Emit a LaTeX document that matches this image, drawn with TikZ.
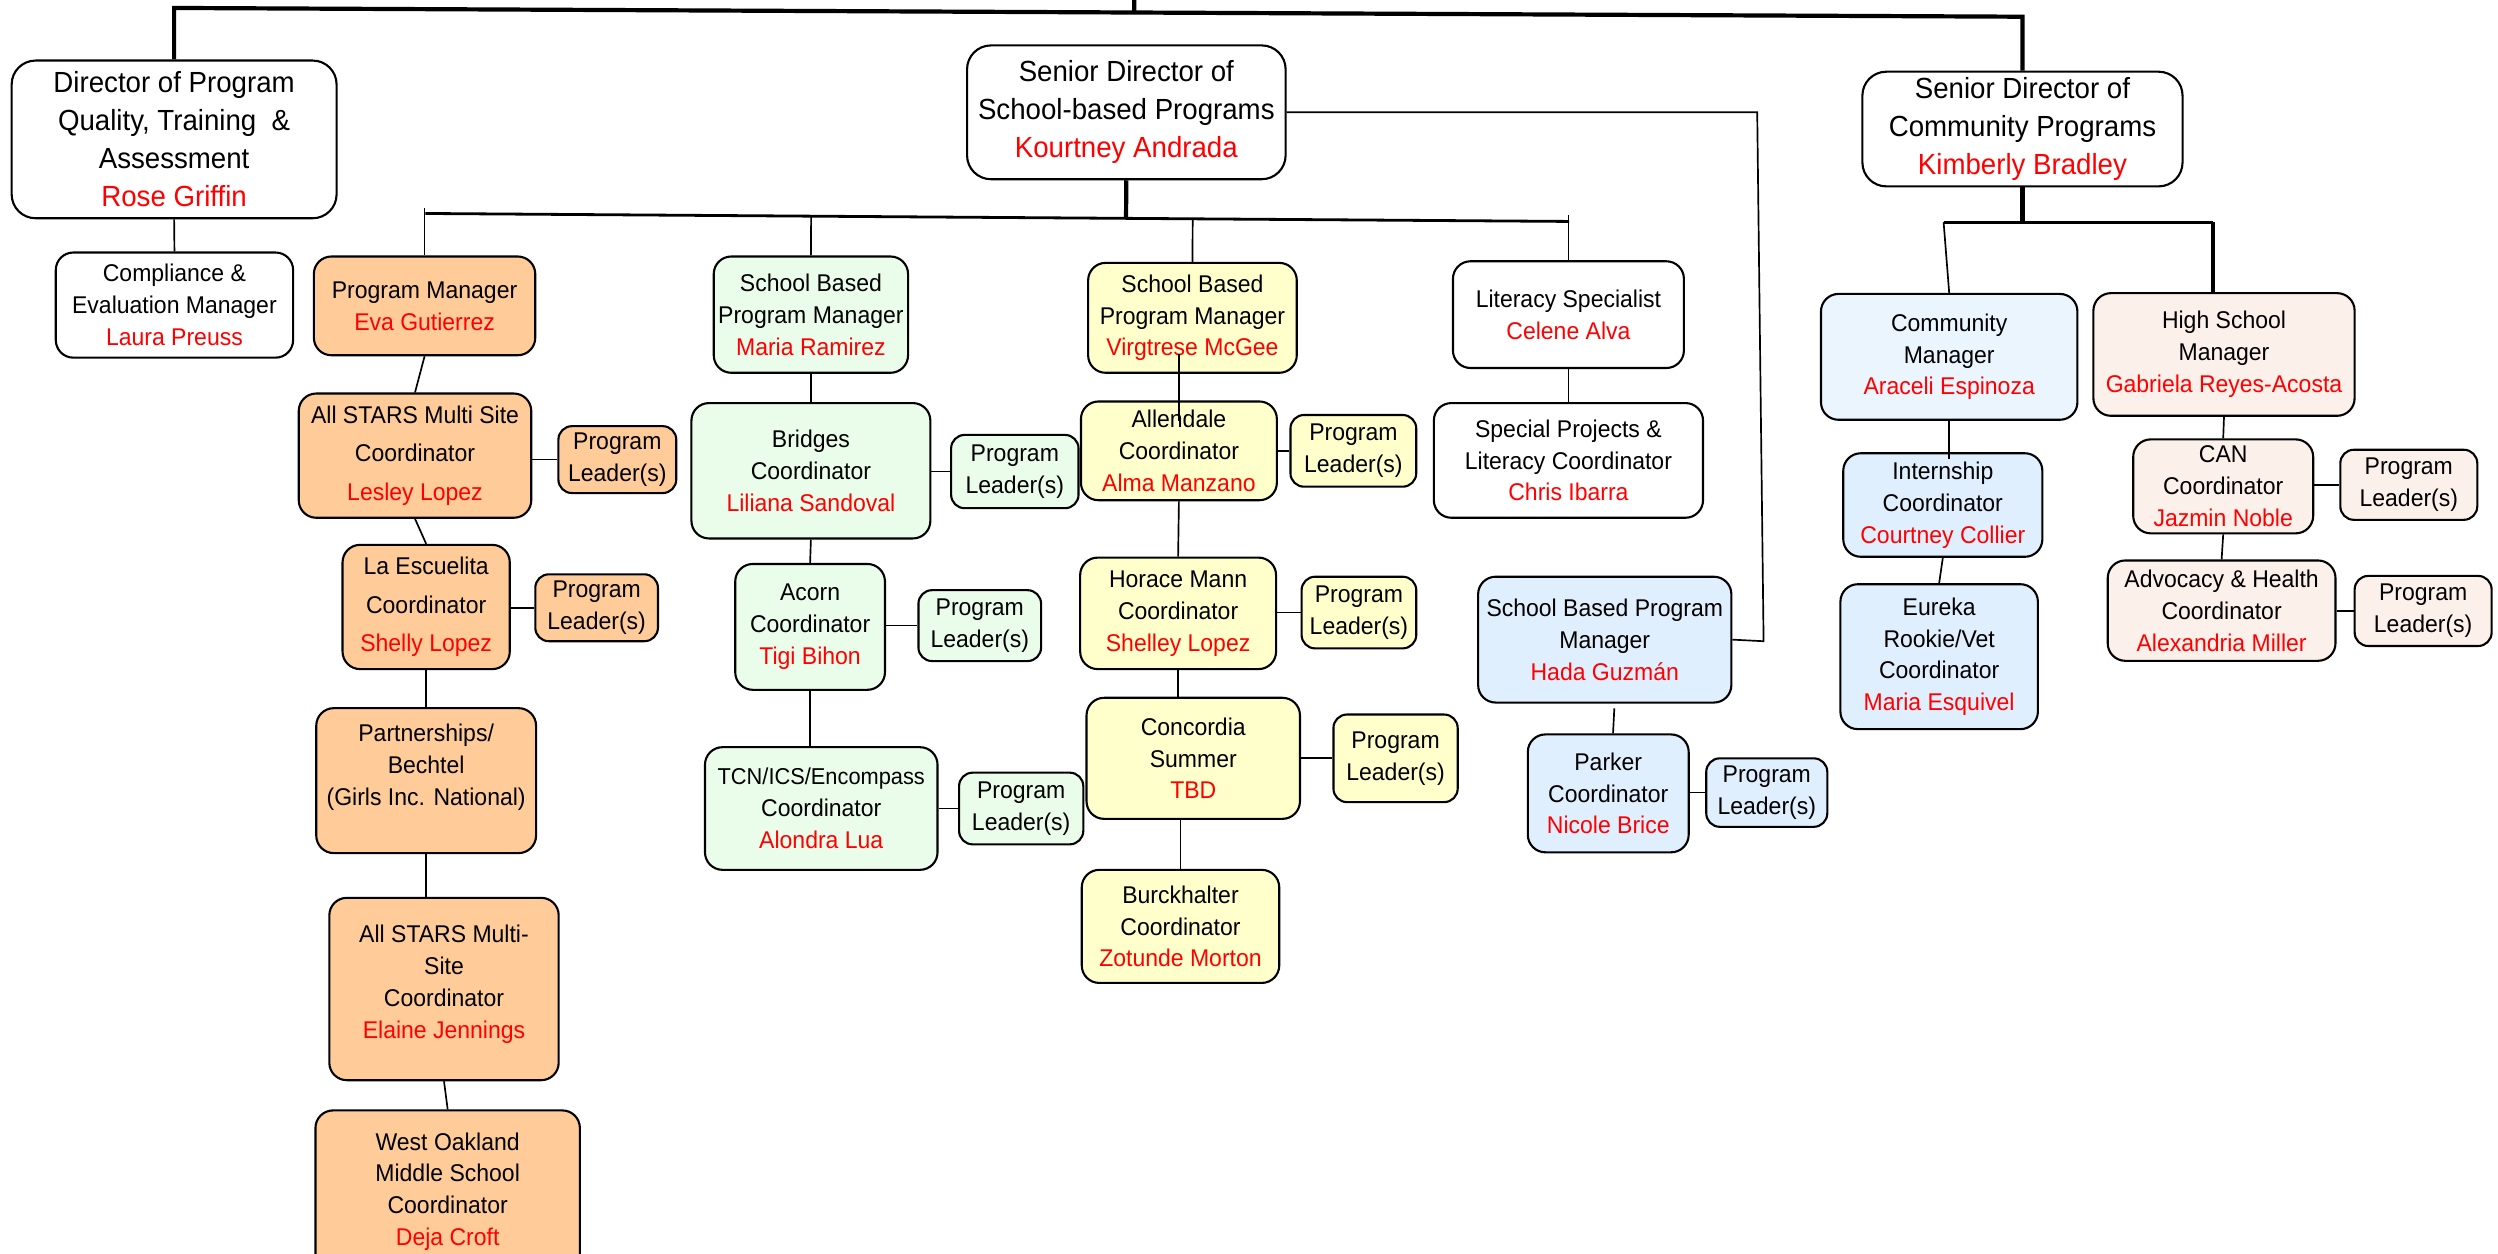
\documentclass[tikz,border=0pt]{standalone}
\usepackage{fontspec}
\setmainfont[FakeStretch=0.95]{Liberation Sans}
\usetikzlibrary{calc}
\definecolor{cOr}{HTML}{FFCC99}
\definecolor{cGr}{HTML}{EAFDEA}
\definecolor{cYe}{HTML}{FFFFCC}
\definecolor{cBl}{HTML}{E0EFFD}
\definecolor{cBlb}{HTML}{EAF5FE}
\definecolor{cPk}{HTML}{FCF0EA}
\definecolor{cRed}{HTML}{FF0000}
\newcommand{\bigf}{\fontsize{10.4}{13.6}\selectfont}
\newcommand{\smf}{\fontsize{8.65}{11.38}\selectfont}
\newcommand{\smfw}{\fontsize{8.65}{13.8}\selectfont}
\newcommand{\nm}[1]{\textcolor{cRed}{#1}}
\begin{document}
\begin{tikzpicture}[x=0.02cm, y=-0.02cm,
  bx/.style={draw, line width=0.75pt, rounded corners=0.22cm, inner sep=0pt, align=center, font=\smf, text=black, fill=white},
  bigbx/.style={bx, rounded corners=0.3cm, font=\bigf},
  plbx/.style={bx, rounded corners=0.17cm},
  widef/.style={font=\smfw},
  fOr/.style={fill=cOr}, fGr/.style={fill=cGr}, fYe/.style={fill=cYe},
  fBl/.style={fill=cBl}, fBlb/.style={fill=cBlb}, fPk/.style={fill=cPk},
  thkc/.style={line width=1.5pt},
  medc/.style={line width=1pt},
  thnc/.style={line width=0.6pt}]
\useasboundingbox (0,0) rectangle (1568,787);
\clip (0,0) rectangle (1568,787);

% ---- top level
\node[bigbx, minimum width=4.08cm, minimum height=1.98cm] (dir) at (109.3,87.5) {Director of Program\\Quality, Training\ \ \&\\Assessment\\\nm{Rose Griffin}};
\node[bigbx, minimum width=4.00cm, minimum height=1.68cm] (sds) at (707,70.5) {Senior Director of\\School-based Programs\\\nm{Kourtney Andrada}};
\node[bigbx, minimum width=4.02cm, minimum height=1.44cm] (sdc) at (1269.5,81) {Senior Director of\\Community Programs\\\nm{Kimberly Bradley}};

% ---- quality column
\node[bx, minimum width=2.98cm, minimum height=1.32cm] (comp) at (109.5,191.5) {Compliance \&\\Evaluation Manager\\\nm{Laura Preuss}};

% ---- orange column
\node[bx, fOr, minimum width=2.78cm, minimum height=1.24cm] (pm1) at (266.5,192) {Program Manager\\\nm{Eva Gutierrez}};
\node[bx, fOr, widef, minimum width=2.92cm, minimum height=1.56cm] (as1) at (260.5,286) {All STARS Multi Site\\Coordinator\\\nm{Lesley Lopez}};
\node[plbx, fOr, minimum width=1.48cm, minimum height=0.84cm] (pl1) at (387.5,288.5) {Program\\Leader(s)};
\node[bx, fOr, widef, minimum width=2.10cm, minimum height=1.56cm] (le) at (267.5,381) {La Escuelita\\Coordinator\\\nm{Shelly Lopez}};
\node[plbx, fOr, minimum width=1.54cm, minimum height=0.84cm] (pl2) at (374.5,381.5) {Program\\Leader(s)};
\node[bx, fOr, minimum width=2.76cm, minimum height=1.82cm] (part) at (267.5,490) {Partnerships/\\Bechtel\\(Girls Inc. National)\\\mbox{}};
\node[bx, fOr, minimum width=2.88cm, minimum height=2.29cm] (ej) at (278.7,620.8) {All STARS Multi-\\Site\\Coordinator\\\nm{Elaine Jennings}\\[-6pt]\mbox{}};
\node[bx, fOr, minimum width=3.32cm, minimum height=2.04cm] (wo) at (281,748) {West Oakland\\Middle School\\Coordinator\\\nm{Deja Croft}};

% ---- green column
\node[bx, fGr, minimum width=2.44cm, minimum height=1.46cm] (g1) at (509,197.5) {School Based\\Program Manager\\\nm{Maria Ramirez}};
\node[bx, fGr, minimum width=3.00cm, minimum height=1.70cm] (bridges) at (509,295.5) {Bridges\\Coordinator\\\nm{Liliana Sandoval}};
\node[plbx, fGr, minimum width=1.60cm, minimum height=0.92cm] (plb) at (637,296) {Program\\Leader(s)};
\node[bx, fGr, minimum width=1.88cm, minimum height=1.58cm] (acorn) at (508.5,393.5) {Acorn\\Coordinator\\\nm{Tigi Bihon}};
\node[plbx, fGr, minimum width=1.54cm, minimum height=0.89cm] (pla) at (615,392.7) {Program\\Leader(s)};
\node[bx, fGr, minimum width=2.92cm, minimum height=1.54cm] (tcn) at (515.5,507.5) {{\fontsize{8.2}{11.38}\selectfont TCN/ICS/Encompass}\\Coordinator\\\nm{Alondra Lua}};
\node[plbx, fGr, minimum width=1.56cm, minimum height=0.90cm] (plt) at (641,507.5) {Program\\Leader(s)};

% ---- yellow column
\node[bx, fYe, minimum width=2.62cm, minimum height=1.38cm] (virg) at (748.5,199.5) {School Based\\Program Manager\\\nm{Virgtrese McGee}};
\node[bx, fYe, minimum width=2.46cm, minimum height=1.24cm] (allen) at (740,283) {Allendale\\Coordinator\\\nm{Alma Manzano}};
\node[plbx, fYe, minimum width=1.58cm, minimum height=0.90cm] (pal) at (849.5,283) {Program\\Leader(s)};
\node[bx, fYe, minimum width=2.46cm, minimum height=1.40cm] (horace) at (739.5,385) {Horace Mann\\Coordinator\\\nm{Shelley Lopez}};
\node[plbx, fYe, minimum width=1.44cm, minimum height=0.90cm] (plh) at (853,384.5) {Program\\Leader(s)};
\node[bx, fYe, minimum width=2.68cm, minimum height=1.52cm] (conc) at (749,476) {Concordia\\Summer\\\nm{TBD}};
\node[plbx, fYe, minimum width=1.56cm, minimum height=1.10cm] (plc) at (876,476) {Program\\Leader(s)};
\node[bx, fYe, minimum width=2.48cm, minimum height=1.42cm] (burck) at (741,581.5) {Burckhalter\\Coordinator\\\nm{Zotunde Morton}};

% ---- literacy column
\node[bx, minimum width=2.90cm, minimum height=1.34cm] (lit) at (984.5,197.5) {Literacy Specialist\\\nm{Celene Alva}};
\node[bx, minimum width=3.38cm, minimum height=1.44cm] (spl) at (984.5,289) {Special Projects \&\\Literacy Coordinator\\\nm{Chris Ibarra}};

% ---- blue school-based
\node[bx, fBl, minimum width=3.18cm, minimum height=1.58cm] (hada) at (1007.3,401.5) {School Based Program\\Manager\\\nm{Hada Guzmán}};
\node[bx, fBl, minimum width=2.02cm, minimum height=1.48cm] (parker) at (1009.5,498) {Parker\\Coordinator\\\nm{Nicole Brice}};
\node[plbx, fBl, minimum width=1.52cm, minimum height=0.86cm] (plp) at (1109,497.5) {Program\\Leader(s)};

% ---- community
\node[bx, fBlb, minimum width=3.22cm, minimum height=1.58cm] (cm) at (1223.5,224) {Community\\Manager\\\nm{Araceli Espinoza}};
\node[bx, fPk, minimum width=3.28cm, minimum height=1.54cm] (hs) at (1396,222.5) {High School\\Manager\\\nm{Gabriela Reyes-Acosta}};
\node[bx, fBl, minimum width=2.50cm, minimum height=1.30cm] (intern) at (1219.5,317) {Internship\\Coordinator\\\nm{Courtney Collier}};
\node[bx, fBl, minimum width=2.48cm, minimum height=1.82cm] (eureka) at (1217.2,412.2) {Eureka\\Rookie/Vet\\Coordinator\\\nm{Maria Esquivel}};
\node[bx, fPk, minimum width=2.26cm, minimum height=1.18cm] (can) at (1395.5,305.3) {CAN\\Coordinator\\\nm{Jazmin Noble}};
\node[plbx, fPk, minimum width=1.72cm, minimum height=0.88cm] (plcan) at (1512,304.3) {Program\\Leader(s)};
\node[bx, fPk, minimum width=2.86cm, minimum height=1.26cm] (adv) at (1394.5,383.3) {Advocacy \& Health\\Coordinator\\\nm{Alexandria Miller}};
\node[plbx, fPk, minimum width=1.72cm, minimum height=0.88cm] (pladv) at (1521,383.5) {Program\\Leader(s)};

% ---- coordinates for buses
\coordinate (topL) at (108.5,5);
\coordinate (topR) at (1269.5,10.5);
\coordinate (topT) at (712,0);
\coordinate (busL) at (267,134);
\coordinate (busR) at (985,139);
\coordinate (rc1) at (1103,70.5);
\coordinate (rc2) at (1107,402.5);
\coordinate (cbusL) at (1220,139.5);
\coordinate (cbusR) at (1389,139.5);

% ---- top connectors
\draw[thkc] (dir.north) -- (dir.north |- topL) -- (sdc.north |- topR) -- (sdc.north);
\draw[thkc] (topT) -- ($(topL)!(topT)!(topR)$);

% ---- school-based bus
\draw[thkc] (sds.south) -- ($(busL)!(sds.south)!(busR)$);
\draw[medc] (busL) -- (busR);
\draw[thnc] ($(pm1.north |- busL)+(0,-3.5)$) -- (pm1.north);
\draw[thnc] ($(busL)!(g1.north)!(busR)$) -- (g1.north);
\draw[thnc] ($(busL)!(virg.north)!(busR)$) -- (virg.north);
\draw[thnc] ($(lit.north |- busR)+(0,-4)$) -- (lit.north);
\draw[thnc] (sds.east) -- (rc1) -- (rc2) -- (hada.east);

% ---- quality
\draw[thnc] (dir.south) -- (comp.north);

% ---- orange chain
\draw[thnc] (pm1.south) -- (as1.north);
\draw[thnc] (as1.south) -- (le.north);
\draw[thnc] (le.south) -- (part.north);
\draw[thnc] (part.south) -- (part.south |- ej.north);
\draw[thnc] (ej.south) -- (wo.north);
\draw[thnc] (as1.east |- pl1.west) -- (pl1.west);
\draw[thnc] (le.east |- pl2.west) -- (pl2.west);

% ---- green chain
\draw[thnc] (g1.south) -- (bridges.north);
\draw[thnc] (bridges.south) -- (acorn.north);
\draw[thnc] (acorn.south) -- (acorn.south |- tcn.north);
\draw[thnc] (bridges.east |- plb.west) -- (plb.west);
\draw[thnc] (acorn.east |- pla.west) -- (pla.west);
\draw[thnc] (tcn.east |- plt.west) -- (plt.west);

% ---- yellow chain
\draw[thnc] ($(allen.north)+(0,-29)$) -- ($(allen.north)+(0,13)$);
\draw[thnc] (allen.south) -- (horace.north);
\draw[thnc] (horace.south) -- (horace.south |- conc.north);
\draw[thnc] (burck.north |- conc.south) -- (burck.north);
\draw[thnc] (allen.east |- pal.west) -- (pal.west);
\draw[thnc] (horace.east |- plh.west) -- (plh.west);
\draw[thnc] (conc.east |- plc.west) -- (plc.west);

% ---- literacy
\draw[thnc] (lit.south) -- (spl.north);

% ---- blue school-based
\draw[thnc] ($(hada.south)+(6,3)$) -- ($(parker.north)+(3,0)$);
\draw[thnc] (parker.east |- plp.west) -- (plp.west);

% ---- community
\draw[thkc] (sdc.south) -- (sdc.south |- cbusL);
\draw[medc] (cbusL) -- (cbusR);
\draw[thnc] (cbusL) -- (cm.north);
\draw[thkc] (cbusR) -- (cbusR |- hs.north);
\draw[thnc] (cm.south) -- ($(cm.south |- intern.north)+(0,4)$);
\draw[thnc] (intern.south) -- (eureka.north);
\draw[thnc] (hs.south) -- (can.north);
\draw[thnc] (can.south) -- (adv.north);
\draw[thnc] (can.east |- plcan.west) -- (plcan.west);
\draw[thnc] (adv.east |- pladv.west) -- (pladv.west);
\end{tikzpicture}
\end{document}
